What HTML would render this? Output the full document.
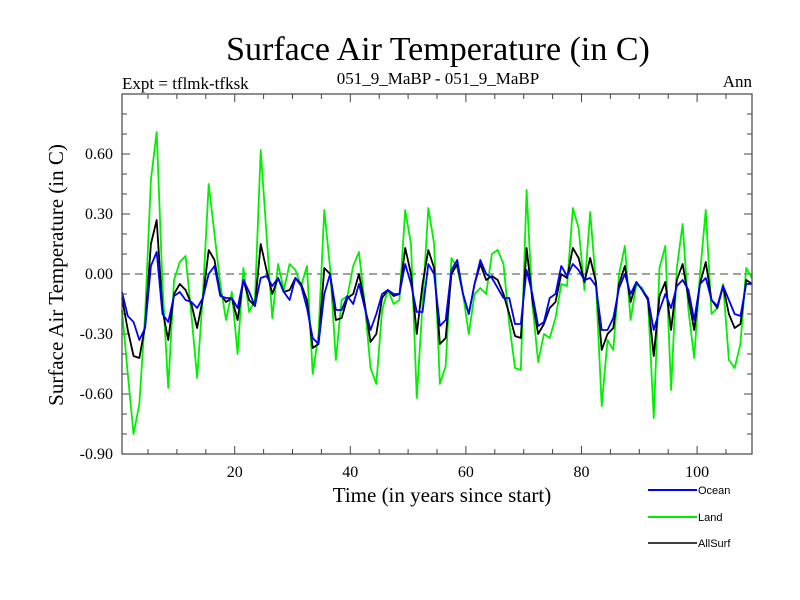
<!DOCTYPE html>
<html><head><meta charset="utf-8"><style>
html,body{margin:0;padding:0;background:#fff;}
svg{display:block;font-family:"Liberation Serif",serif;}
</style></head><body>
<svg id="chart" width="800" height="600" viewBox="0 0 800 600">
<rect x="0" y="0" width="800" height="600" fill="#fff"/>
<text x="438" y="60" font-size="34" text-anchor="middle">Surface Air Temperature (in C)</text>
<text x="122" y="89" font-size="17">Expt = tflmk-tfksk</text>
<text x="438" y="84" font-size="17" text-anchor="middle">051_9_MaBP - 051_9_MaBP</text>
<text x="752" y="87" font-size="17" text-anchor="end">Ann</text>
<text x="442" y="502" font-size="21" text-anchor="middle">Time (in years since start)</text>
<text transform="translate(63,275) rotate(-90)" font-size="21" text-anchor="middle">Surface Air Temperature (in C)</text>
<g id="axes"></g>
<g id="series"></g>
<rect x="122" y="94" width="630" height="360" fill="none" stroke="#444" stroke-width="1.2"/>
<g font-family="Liberation Sans, sans-serif" font-size="11">
  <line x1="648" y1="490" x2="697" y2="490" stroke="#0000ff" stroke-width="2"/>
  <text x="698" y="494">Ocean</text>
  <line x1="648" y1="517" x2="697" y2="517" stroke="#00ee00" stroke-width="2"/>
  <text x="698" y="521">Land</text>
  <line x1="648" y1="543" x2="697" y2="543" stroke="#000" stroke-width="1.5"/>
  <text x="698" y="547">AllSurf</text>
</g>
</svg>
<script>
const xTicks = [20, 40, 60, 80, 100];
const yTicks = [0.6, 0.3, 0.0, -0.3, -0.6, -0.9];
const yTickLabels = ["0.60", "0.30", "0.00", "-0.30", "-0.60", "-0.90"];
const land = [-0.18,-0.5,-0.8,-0.65,-0.2,0.47,0.71,-0.05,-0.57,-0.03,0.06,0.09,-0.2,-0.52,-0.1,0.45,0.2,-0.05,-0.23,
 -0.09,-0.4,0.03,-0.19,-0.13,0.62,0.2,-0.22,0.05,-0.08,0.05,0.02,-0.06,0.04,-0.5,-0.3,0.32,0.03,
 -0.43,-0.13,-0.11,0.04,0.11,-0.15,-0.47,-0.55,-0.18,-0.08,-0.15,-0.13,0.32,0.15,-0.62,-0.15,0.33,0.15,-0.55,-0.46,
 0.08,0.03,-0.1,-0.3,-0.1,-0.07,-0.1,0.1,0.12,0.05,-0.25,-0.47,-0.48,0.42,-0.15,-0.44,-0.3,-0.32,-0.22,-0.05,-0.06,
 0.33,0.23,-0.08,0.31,-0.05,-0.66,-0.33,-0.38,0.0,0.14,-0.23,-0.05,-0.07,-0.13,-0.72,0.03,0.14,-0.58,0.03,0.25,
 -0.18,-0.42,0.0,0.32,-0.2,-0.17,-0.05,-0.43,-0.47,-0.35,0.03,-0.02];
const allSurf = [-0.12,-0.28,-0.41,-0.42,-0.26,0.15,0.27,-0.18,-0.33,-0.1,-0.05,-0.08,-0.15,-0.27,-0.12,0.12,0.07,-0.1,-0.14,
 -0.12,-0.23,-0.03,-0.13,-0.16,0.15,0.02,-0.1,-0.02,-0.09,-0.08,-0.02,-0.05,-0.13,-0.37,-0.35,0.03,0.0,
 -0.23,-0.22,-0.12,-0.1,0.0,-0.15,-0.34,-0.3,-0.12,-0.08,-0.11,-0.1,0.13,0.0,-0.3,-0.05,0.12,0.03,-0.35,-0.32,
 0.0,0.05,-0.1,-0.2,-0.05,0.05,-0.03,-0.01,-0.03,-0.1,-0.2,-0.31,-0.32,0.13,-0.13,-0.3,-0.25,-0.17,-0.14,0.0,-0.02,
 0.13,0.08,-0.04,0.08,-0.04,-0.38,-0.3,-0.27,-0.05,0.04,-0.14,-0.04,-0.08,-0.13,-0.41,-0.11,-0.04,-0.28,-0.03,0.05,
 -0.12,-0.28,-0.05,0.06,-0.13,-0.17,-0.06,-0.2,-0.27,-0.25,-0.03,-0.05];
const ocean = [-0.09,-0.21,-0.24,-0.33,-0.27,0.04,0.11,-0.2,-0.24,-0.11,-0.09,-0.13,-0.14,-0.17,-0.12,0.0,0.04,-0.11,-0.12,
 -0.12,-0.17,-0.03,-0.09,-0.16,-0.02,-0.01,-0.06,-0.02,-0.09,-0.13,-0.02,-0.06,-0.17,-0.32,-0.35,-0.1,0.0,
 -0.18,-0.18,-0.11,-0.15,-0.05,-0.17,-0.28,-0.2,-0.1,-0.08,-0.1,-0.1,0.05,-0.05,-0.19,-0.19,0.05,0.0,-0.26,-0.23,
 0.02,0.07,-0.1,-0.2,-0.05,0.07,0.0,-0.02,-0.07,-0.12,-0.12,-0.25,-0.25,0.02,-0.1,-0.26,-0.24,-0.12,-0.1,0.04,-0.01,
 0.05,0.02,-0.03,-0.02,-0.06,-0.28,-0.28,-0.22,-0.07,0.0,-0.1,-0.04,-0.08,-0.12,-0.28,-0.18,-0.1,-0.17,-0.06,-0.03,
 -0.08,-0.23,-0.05,-0.02,-0.13,-0.16,-0.06,-0.13,-0.2,-0.21,-0.05,-0.05];

const NS = "http://www.w3.org/2000/svg";
const X0 = 122, X1 = 752, Y0 = 94, Y1 = 454;
const xMin = 0.5, xMax = 109.5, yMin = -0.9, yMax = 0.9;
function xs(v){ return X0 + (v - xMin) / (xMax - xMin) * (X1 - X0); }
function ys(v){ return Y1 - (v - yMin) / (yMax - yMin) * (Y1 - Y0); }
function mk(tag, attrs, parent){ const e = document.createElementNS(NS, tag); for (const k in attrs) e.setAttribute(k, attrs[k]); parent.appendChild(e); return e; }

const axes = document.getElementById('axes');
for (let t = 5; t <= 105; t += 5) {
  const major = t % 20 === 0;
  const len = major ? 8 : 5;
  const a = mk('line', {x1: xs(t), x2: xs(t), y1: Y1, y2: Y1 - len, stroke: '#444', 'stroke-width': 1}, axes);
  
  
  const b = mk('line', {x1: xs(t), x2: xs(t), y1: Y0, y2: Y0 + len, stroke: '#444', 'stroke-width': 1}, axes);
  
  
}
xTicks.forEach(t => {
  const tx = mk('text', {x: xs(t), y: 477, 'font-size': 16, 'text-anchor': 'middle'}, axes);
  tx.textContent = String(t);
  
  
});
for (let i = -9; i <= 9; i++) {
  const v = i / 10;
  const major = (i % 3 === 0);
  const len = major ? 8 : 5;
  const a = mk('line', {x1: X0, x2: X0 + len, y1: ys(v), y2: ys(v), stroke: '#444', 'stroke-width': 1}, axes);
  
  
  const b = mk('line', {x1: X1, x2: X1 - len, y1: ys(v), y2: ys(v), stroke: '#444', 'stroke-width': 1}, axes);
  
  
}
yTicks.forEach((v, i) => {
  const tx = mk('text', {x: 113, y: ys(v) + 5, 'font-size': 16, 'text-anchor': 'end'}, axes);
  tx.textContent = yTickLabels[i];
  
  
});
const zl = mk('line', {x1: X0, x2: X1, y1: ys(0), y2: ys(0), stroke: '#444', 'stroke-width': 1, 'stroke-dasharray': '8,5'}, axes);



const series = document.getElementById('series');
function draw(arr, color, w, name){
  const pts = arr.map((v, i) => xs(i + 0.5).toFixed(2) + ',' + ys(v).toFixed(2)).join(' ');
  const p = mk('polyline', {points: pts, fill: 'none', stroke: color, 'stroke-width': w, 'stroke-linejoin': 'round'}, series);
  
  
}
draw(land, '#00f000', 1.8, 'land-line');
draw(allSurf, '#000000', 1.8, 'allsurf-line');
draw(ocean, '#0000ff', 1.8, 'ocean-line');
</script>
</body></html>
